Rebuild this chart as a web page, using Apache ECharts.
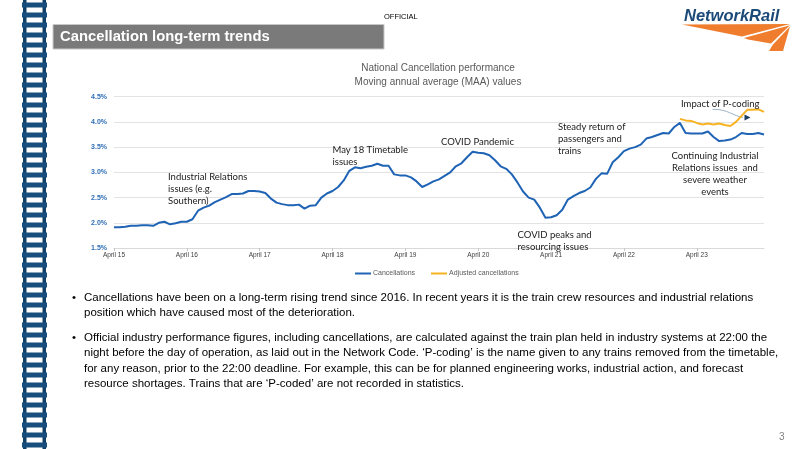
<!DOCTYPE html>
<html><head><meta charset="utf-8">
<script src="https://cdn.jsdelivr.net/npm/echarts@6/dist/echarts.min.js"></script>
<style>html,body{margin:0;padding:0;background:#fff}#c{width:800px;height:449px}</style>
</head><body><div id="c"></div>
<script>
// ---- data ----
const fiscalYears = ['2015-16','2016-17','2017-18','2018-19','2019-20','2020-21','2021-22','2022-23','2023-24'];
const periods = ['P01','P02','P03','P04','P05','P06','P07','P08','P09','P10','P11','P12','P13'];
const tickLabels = ['April 15','April 16','April 17','April 18','April 19','April 20','April 21','April 22','April 23'];
const categories = [];
fiscalYears.forEach(y => periods.forEach(p => categories.push(y + ' ' + p)));

const cancellations = [
  1.91,1.91,1.92,1.94,1.94,1.95,1.95,1.94,2.00,2.02,1.97,1.99,2.02,
  2.02,2.07,2.24,2.30,2.34,2.41,2.46,2.51,2.57,2.57,2.58,2.63,2.63,
  2.62,2.59,2.48,2.40,2.37,2.35,2.35,2.36,2.28,2.34,2.35,2.50,2.58,
  2.63,2.71,2.84,3.03,3.10,3.08,3.11,3.13,3.17,3.13,3.13,2.96,2.94,
  2.94,2.90,2.82,2.71,2.76,2.82,2.86,2.93,3.00,3.12,3.18,3.30,3.41,
  3.39,3.38,3.34,3.24,3.12,3.07,2.96,2.80,2.62,2.50,2.46,2.30,2.10,
  2.11,2.15,2.26,2.46,2.53,2.59,2.63,2.70,2.87,2.98,2.97,3.20,3.30,
  3.42,3.47,3.50,3.55,3.67,3.70,3.74,3.78,3.77,3.90,3.98,3.78,3.77,
  3.77,3.77,3.81,3.70,3.62,3.63,3.65,3.70,3.78,3.76,3.76,3.78,3.75
];
const adjustedStartIndex = 101;
const adjustedValues = [4.06,4.03,4.02,3.98,3.95,3.97,3.95,3.97,3.94,3.92,4.00,4.12,4.24,4.24,4.25,4.20];
const adjusted = categories.map((c,i) => i >= adjustedStartIndex ? adjustedValues[i - adjustedStartIndex] : null);

const bullets = [
  ['Cancellations have been on a long-term rising trend since 2016. In recent years it is the train crew resources and industrial relations',
   'position which have caused most of the deterioration.'],
  ['Official industry performance figures, including cancellations, are calculated against the train plan held in industry systems at 22:00 the',
   'night before the day of operation, as laid out in the Network Code. \u2018P-coding\u2019 is the name given to any trains removed from the timetable,',
   'for any reason, prior to the 22:00 deadline. For example, this can be for planned engineering works, industrial action, and forecast',
   'resource shortages. Trains that are \u2018P-coded\u2019 are not recorded in statistics.']
];

// ---- graphics ----
const g = [];
// rail stripe
g.push({type:'rect', shape:{x:23,y:0,width:3.5,height:449}, style:{fill:'#123f66'}});
g.push({type:'rect', shape:{x:42.5,y:0,width:3.5,height:449}, style:{fill:'#123f66'}});
for (let y = 2.5; y < 449; y += 10) {
  g.push({type:'rect', shape:{x:22,y:y,width:25,height:5}, style:{fill:'#174e7d'}});
}
// title bar
g.push({type:'rect', shape:{x:53,y:24.5,width:331,height:24.5}, style:{fill:'#7a7a7a', stroke:'#c8c8c8', lineWidth:1}});
g.push({type:'text', x:60, y:37, style:{text:'Cancellation long-term trends', fill:'#fff', font:'bold 14.8px "Liberation Sans", Arial', textVerticalAlign:'middle'}});
// OFFICIAL
g.push({type:'text', x:384, y:16.5, style:{text:'OFFICIAL', fill:'#000', font:'7.5px "Liberation Sans", Arial', textVerticalAlign:'middle'}});
// logo
g.push({type:'text', x:684, y:16.5, style:{text:'NetworkRail', fill:'#1b4a78', font:'italic bold 16.5px "Liberation Sans", Arial', textVerticalAlign:'middle'}});
g.push({type:'polygon', shape:{points:[[682,24.5],[790,24],[742,36.5]]}, style:{fill:'#ef7d2d'}});
g.push({type:'polygon', shape:{points:[[744,38],[790,25.2],[771,43.5],[748,39.5]]}, style:{fill:'#ef7d2d'}});
g.push({type:'polygon', shape:{points:[[773,44.5],[790,26.5],[783,51],[769,51]]}, style:{fill:'#ef7d2d'}});
// annotations
const ann = (lines, x, y0, dy, align) => lines.forEach((t,i) => g.push({type:'text', x:x, y:y0+i*dy, z:10,
  style:{text:t, fill:'#1a1a1a', font:'9.5px Lato, "Open Sans", sans-serif', textVerticalAlign:'middle', textAlign:align||'left'}}));
ann(['Industrial Relations','issues (e.g.','Southern)'], 168, 177, 12);
ann(['May 18 Timetable','issues'], 332.5, 149.5, 12.3);
ann(['COVID Pandemic'], 441, 141.5, 12);
ann(['Steady return of','passengers and','trains'], 558, 127, 12.2);
ann(['Impact of P-coding'], 681, 104, 12);
ann(['Continuing Industrial','Relations issues  and','severe weather','events'], 715, 156, 12.1, 'center');
ann(['COVID peaks and','resourcing issues'], 517.5, 234.5, 12.3);
// arrow
g.push({type:'bezierCurve', shape:{x1:712.5,y1:109.3,x2:743,y2:117.5,cpx1:728,cpy1:109,cpx2:733,cpy2:116}, style:{stroke:'#9bb3c6', lineWidth:1, fill:null}});
g.push({type:'polygon', shape:{points:[[744.5,114.5],[744.5,120.5],[750.5,117.5]]}, style:{fill:'#1b3f5e'}});
// bullets
let by = [298, 313, 337.5, 353, 368.5, 384];
let k = 0;
bullets.forEach(b => {
  g.push({type:'text', x:72, y:by[k], style:{text:'\u2022', fill:'#000', font:'11.5px "Liberation Sans", Arial', textVerticalAlign:'middle'}});
  b.forEach(line => { g.push({type:'text', x:84, y:by[k], style:{text:line, fill:'#000', font:'11.5px "Liberation Sans", Arial', textVerticalAlign:'middle'}}); k++; });
});
g.push({type:'text', x:779, y:437, style:{text:'3', fill:'#808080', font:'10px "Liberation Sans", Arial', textVerticalAlign:'middle'}});

const chart = echarts.init(document.getElementById('c'));
chart.setOption({
  animation:false,
  title:{text:'National Cancellation performance\nMoving annual average (MAA) values', left:433, top:56, textAlign:'center',
    textStyle:{fontSize:10, fontWeight:'normal', color:'#595959', lineHeight:14, fontFamily:'"Liberation Sans", Arial'}},
  legend:{left:350, top:265, icon:'rect', itemWidth:16, itemHeight:2, itemGap:16,
    textStyle:{fontSize:7, color:'#595959', fontFamily:'"Liberation Sans", Arial', padding:[0,0,0,-3]},
    data:['Cancellations','Adjusted cancellations']},
  grid:{left:114, right:36, top:96.7, bottom:201},
  xAxis:{type:'category', data:categories, boundaryGap:false,
    axisLine:{lineStyle:{color:'#d9d9d9'}},
    axisTick:{show:true, interval:12, length:3, lineStyle:{color:'#c8c8c8'}},
    axisLabel:{interval:12, fontSize:6.5, color:'#404040', margin:4, fontFamily:'"Liberation Sans", Arial',
      formatter:(v,i) => tickLabels[Math.round(i/13)] || ''}},
  yAxis:{type:'value', min:1.5, max:4.5, interval:0.5,
    axisLine:{show:false}, axisTick:{show:false},
    splitLine:{lineStyle:{color:'#e3e3e3'}},
    axisLabel:{formatter:v => v.toFixed(1)+'%', color:'#2f6eb5', fontSize:7, fontWeight:'bold', margin:7, fontFamily:'"Liberation Sans", Arial'}},
  series:[
    {name:'Cancellations', type:'line', data:cancellations, symbol:'none', lineStyle:{width:2, color:'#1f63b5'}, itemStyle:{color:'#1f63b5'}},
    {name:'Adjusted cancellations', type:'line', data:adjusted, symbol:'none', lineStyle:{width:2, color:'#f8b323'}, itemStyle:{color:'#f8b323'}}
  ],
  graphic:g
});
</script></body></html>
